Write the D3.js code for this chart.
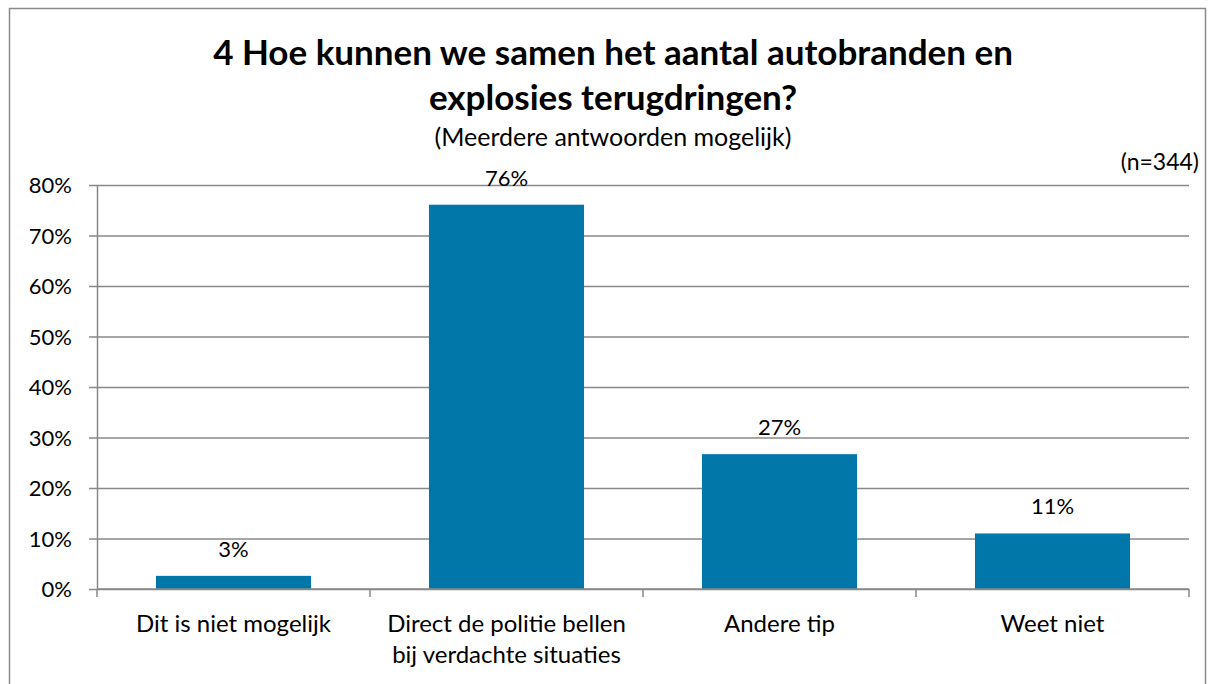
<!DOCTYPE html>
<html>
<head>
<meta charset="utf-8">
<script src="https://cdn.jsdelivr.net/npm/d3@7"></script>
<style>
  body { margin: 0; background: #fff; }
  text { font-family: Lato, "Open Sans", sans-serif; fill: #000; }
</style>
</head>
<body>
<svg id="chart" width="1214" height="684"></svg>
<script>
// data
const categories = [
    ["Dit is niet mogelijk"],
    ["Direct de politie bellen", "bij verdachte situaties"],
    ["Andere tip"],
    ["Weet niet"]
];
const values = [2.6, 76.1, 26.7, 11.0];
const labels = ["3%", "76%", "27%", "11%"];
const yTicks = [0, 10, 20, 30, 40, 50, 60, 70, 80];

const svg = d3.select("#chart"),
    width = +svg.attr("width"),
    height = +svg.attr("height"),
    margin = { top: 185, right: 25, bottom: 95, left: 97 },
    chartWidth = width - margin.left - margin.right,
    chartHeight = height - margin.top - margin.bottom;

// outer frame
svg.append("rect")
    .attr("x", 9.5).attr("y", 8.5)
    .attr("width", 1196).attr("height", 690)
    .attr("fill", "none")
    .attr("stroke", "#8a8a8a")
    .attr("stroke-width", 1.5);

// titels
svg.append("text")
    .attr("x", 613).attr("y", 65)
    .attr("text-anchor", "middle")
    .style("font-size", "35px")
    .style("font-weight", "bold")
    .text("4 Hoe kunnen we samen het aantal autobranden en");
svg.append("text")
    .attr("x", 613).attr("y", 110)
    .attr("text-anchor", "middle")
    .style("font-size", "35px")
    .style("font-weight", "bold")
    .text("explosies terugdringen?");
svg.append("text")
    .attr("x", 613).attr("y", 146)
    .attr("text-anchor", "middle")
    .style("font-size", "25px")
    .text("(Meerdere antwoorden mogelijk)");
svg.append("text")
    .attr("x", 1199).attr("y", 170)
    .attr("text-anchor", "end")
    .style("font-size", "23px")
    .text("(n=344)");

const chart = svg.append("g")
    .attr("transform", `translate(${margin.left},${margin.top})`);

const x = d3.scaleBand()
    .domain(d3.range(categories.length))
    .range([0, chartWidth])
    .paddingInner(0.432)
    .paddingOuter(0.216);

const y = d3.scaleLinear()
    .domain([0, 80])
    .range([chartHeight, 0]);

// gridlines + y axis
const yAxis = chart.append("g")
    .call(d3.axisLeft(y).tickValues(yTicks).tickFormat(d => d + "%").tickSize(8).tickSizeOuter(0));
yAxis.select(".domain").attr("stroke", "#888").attr("stroke-width", 1.5);
yAxis.selectAll(".tick line").attr("stroke", "#888").attr("stroke-width", 1.5)
    .attr("x2", chartWidth).attr("x1", -8);
yAxis.selectAll(".tick text")
    .attr("x", -25)
    .attr("dy", "0.35em")
    .style("font-size", "22px")
    .style("font-family", "Lato, sans-serif")
    .attr("fill", "#000");

// bars
chart.selectAll(".bar")
    .data(values)
    .join("rect")
    .attr("class", "bar")
    .attr("x", (d, i) => x(i))
    .attr("y", d => y(d))
    .attr("width", x.bandwidth())
    .attr("height", d => chartHeight - y(d))
    .attr("fill", "#0076a9");

// waarde labels
chart.selectAll(".val")
    .data(values)
    .join("text")
    .attr("class", "val")
    .attr("x", (d, i) => x(i) + x.bandwidth() / 2)
    .attr("y", d => y(d) - 19)
    .attr("text-anchor", "middle")
    .style("font-size", "22px")
    .text((d, i) => labels[i]);

// x axis
const xLine = chart.append("g").attr("transform", `translate(0,${chartHeight})`);
xLine.append("line")
    .attr("x1", 0).attr("x2", chartWidth)
    .attr("stroke", "#888").attr("stroke-width", 1.5);
xLine.selectAll(".xt")
    .data(d3.range(categories.length + 1))
    .join("line")
    .attr("class", "xt")
    .attr("x1", i => i * chartWidth / categories.length)
    .attr("x2", i => i * chartWidth / categories.length)
    .attr("y1", 0).attr("y2", 8)
    .attr("stroke", "#888").attr("stroke-width", 1.5);

xLine.selectAll(".xl")
    .data(categories)
    .join("text")
    .attr("class", "xl")
    .attr("text-anchor", "middle")
    .style("font-size", "24px")
    .each(function(lines, i) {
        const t = d3.select(this);
        lines.forEach((line, j) => {
            t.append("tspan")
                .attr("x", x(i) + x.bandwidth() / 2)
                .attr("y", 43 + j * 31)
                .text(line);
        });
    });
</script>
</body>
</html>
